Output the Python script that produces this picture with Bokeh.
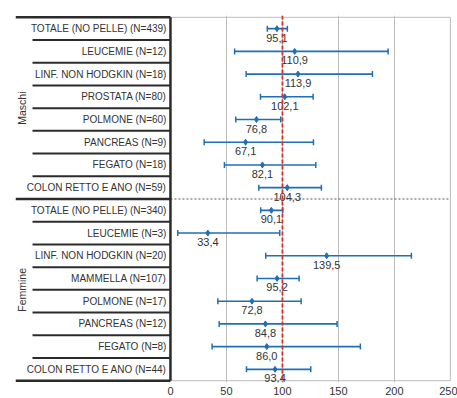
from bokeh.plotting import figure
from bokeh.models import Range1d, FixedTicker, Span, ColumnDataSource, Whisker, TeeHead
from bokeh.embed import file_html
from bokeh.resources import INLINE
from bokeh.core.properties import value

groups = ["Maschi", "Femmine"]
male_labels = ["TOTALE (NO PELLE) (N=439)", "LEUCEMIE (N=12)", "LINF. NON HODGKIN (N=18)",
               "PROSTATA (N=80)", "POLMONE (N=60)", "PANCREAS (N=9)", "FEGATO (N=18)",
               "COLON RETTO E ANO (N=59)"]
male_ratio = [95.1, 110.9, 113.9, 102.1, 76.8, 67.1, 82.1, 104.3]
male_lower = [86.5, 57.3, 67.6, 80.4, 58.3, 30.1, 48.2, 78.9]
male_upper = [104.4, 194.4, 180.4, 127.4, 98.5, 127.7, 129.8, 134.8]

female_labels = ["TOTALE (NO PELLE) (N=340)", "LEUCEMIE (N=3)", "LINF. NON HODGKIN (N=20)",
                 "MAMMELLA (N=107)", "POLMONE (N=17)", "PANCREAS (N=12)", "FEGATO (N=8)",
                 "COLON RETTO E ANO (N=44)"]
female_ratio = [90.1, 33.4, 139.5, 95.2, 72.8, 84.8, 86.0, 93.4]
female_lower = [80.6, 6.5, 85.1, 77.4, 42.3, 43.5, 37.2, 67.9]
female_upper = [100.3, 97.6, 215.2, 114.9, 116.7, 148.8, 169.6, 125.3]

x_ticks = [0, 50, 100, 150, 200, 250]
reference_value = 100

BLUE = "#1f6fb8"
DARK = "#2b2b2b"
TEXT = "#333333"
FONT = "Liberation Sans"

labels = male_labels + female_labels
ratios = male_ratio + female_ratio
lows = male_lower + female_lower
highs = male_upper + female_upper
n_rows = len(labels)
rows = [i + 0.5 for i in range(n_rows)]

src = ColumnDataSource(dict(
    y=rows, ratio=ratios, lo=lows, hi=highs, label=labels,
    txt=[f"{v:.1f}".replace(".", ",") for v in ratios],
))

X_LEFT = -138.4      # left edge of the category table (data units)
X_LABEL_COL = -123.2  # start of the label column
pad = 0.08

p = figure(frame_width=436, frame_height=367,
           x_range=Range1d(X_LEFT, 251), y_range=Range1d(n_rows + pad, -pad),
           output_backend="svg", toolbar_location=None,
           min_border_left=15, min_border_right=6, min_border_top=15, min_border_bottom=0)
p.outline_line_color = None
p.yaxis.visible = False
p.ygrid.visible = False
p.xgrid.ticker = FixedTicker(ticks=[50, 100, 150, 200])
p.xgrid.grid_line_color = "#bdbdbd"
p.xgrid.grid_line_width = 1
p.xaxis.ticker = FixedTicker(ticks=x_ticks)
p.xaxis.axis_line_color = None
p.xaxis.major_tick_line_color = None
p.xaxis.minor_tick_line_color = None
p.xaxis.major_tick_out = 0
p.xaxis.major_label_text_font = FONT
p.xaxis.major_label_text_font_size = "11px"
p.xaxis.major_label_text_color = TEXT
p.xaxis.major_label_standoff = 4

# plot area border
p.quad(left=[0], right=[250], top=[0], bottom=[n_rows], fill_color=None,
       line_color="#bdbdbd", line_width=1)

# dotted separator between groups in the plot area
half = len(male_labels)
p.segment(x0=[0], x1=[250], y0=[half], y1=[half], line_color="#555555",
          line_width=1, line_dash="2 2")

# table lines
sep_rows = [i for i in range(1, n_rows) if i != half]
p.segment(x0=[X_LABEL_COL] * len(sep_rows), x1=[0] * len(sep_rows), y0=sep_rows, y1=sep_rows,
          line_color=DARK, line_width=2)
p.segment(x0=[X_LEFT] * 3, x1=[0] * 3, y0=[0, half, n_rows], y1=[0, half, n_rows],
          line_color=DARK, line_width=2.5)
p.segment(x0=[0], x1=[0], y0=[0], y1=[n_rows], line_color=DARK, line_width=2.5)

# category labels
p.text(x=-3.6, y="y", text="label", source=src, text_align="right", text_baseline="middle",
       text_font=value(FONT), text_font_size="10px", text_color=TEXT)

# group labels
group_y = [half / 2, half + (n_rows - half) / 2]
p.text(x=[-132.5] * 2, y=group_y, text=groups, angle=1.5708, text_align="center",
       text_baseline="middle", text_font=value(FONT), text_font_size="10.5px", text_color=TEXT)

# reference line
p.add_layout(Span(location=reference_value, dimension="height", line_color="#d9302c",
                  line_dash="4 2", line_width=1.8))

# confidence intervals
w = Whisker(source=src, base="y", lower="lo", upper="hi", dimension="width",
            line_color=BLUE, line_width=1.6,
            upper_head=TeeHead(size=6, line_color=BLUE, line_width=1.5),
            lower_head=TeeHead(size=6, line_color=BLUE, line_width=1.5))
w.level = "glyph"
p.add_layout(w)

p.scatter(x="ratio", y="y", source=src, marker="diamond", size=6, color=BLUE)

p.text(x="ratio", y="y", text="txt", source=src, text_align="center", text_baseline="top",
       y_offset=5, text_font=value(FONT), text_font_size="11px", text_color=TEXT)

open("out.html", "w").write(file_html(p, INLINE))
